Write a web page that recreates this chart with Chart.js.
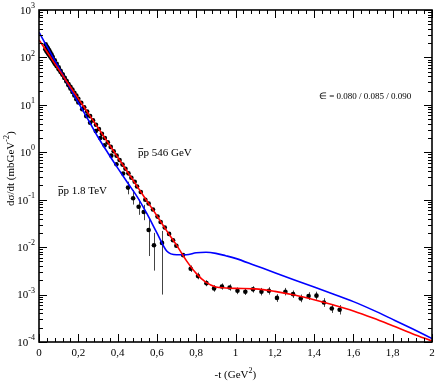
<!DOCTYPE html>
<html>
<head>
<meta charset="utf-8">
<title>dsigma/dt</title>
<script src="https://cdn.jsdelivr.net/npm/chart.js@4.4.1/dist/chart.umd.min.js"></script>
<style>
  body { margin: 0; background: #fff; }
  canvas { display: block; }
</style>
</head>
<body>
<canvas id="chart" width="436" height="382"></canvas>
<script>

///////////////////////////////
      /// DATA ///
//////////////////////////////

// model curves (same -t grid for both)
const curveT = [0, 0.05, 0.1, 0.15, 0.2, 0.25, 0.3, 0.35, 0.4, 0.45, 0.5, 0.55, 0.6, 0.65, 0.7,
  0.75, 0.8, 0.85, 0.9, 0.95, 1.0, 1.1, 1.2, 1.3, 1.4, 1.5, 1.6, 1.7, 1.8, 1.9, 2.0];
const fit546 = [234, 115, 56, 27.5, 13.5, 6.7, 3.3, 1.62, 0.79, 0.39, 0.19, 0.093, 0.046, 0.022, 0.011,
  0.0052, 0.0028, 0.0018, 0.00145, 0.00138, 0.00135, 0.00132, 0.00117, 0.00098, 0.00078, 0.0006,
  0.00045, 0.00032, 0.00022, 0.00015, 0.000105];
const fit1800 = [340, 145, 62, 26, 11.2, 4.9, 2.1, 0.98, 0.47, 0.23, 0.115, 0.05, 0.02, 0.0083, 0.0069,
  0.0069, 0.0076, 0.0078, 0.0074, 0.0066, 0.0058, 0.0041, 0.0029, 0.00204, 0.00145, 0.00102,
  0.00071, 0.00047, 0.0003, 0.00019, 0.000118];

// pbar-p 546 GeV data
const t546 = [0.032, 0.037, 0.042, 0.047, 0.052, 0.057, 0.062, 0.067, 0.072, 0.077, 0.082,
  0.09, 0.10, 0.11, 0.12, 0.13, 0.14, 0.15, 0.16, 0.17, 0.18, 0.19, 0.20,
  0.215, 0.23, 0.245, 0.26, 0.275, 0.29, 0.305, 0.32, 0.335, 0.35, 0.365, 0.38, 0.395, 0.41, 0.425, 0.44, 0.455, 0.47,
  0.487, 0.499, 0.518, 0.541, 0.558, 0.58, 0.603, 0.619, 0.64, 0.662, 0.682, 0.699, 0.733,
  0.772, 0.809, 0.852, 0.891, 0.931, 0.97, 1.01, 1.05, 1.089, 1.132, 1.17, 1.211, 1.254, 1.293, 1.332, 1.372, 1.412, 1.45, 1.49, 1.53];
const ds546 = [148, 138, 129, 120, 112, 105, 98, 91, 85, 78, 73,
  65, 56, 49, 43, 37, 32, 27.5, 24, 21, 18, 15.8, 13.5,
  11, 8.9, 7.2, 5.8, 4.7, 3.8, 3.1, 2.45, 2.0, 1.62, 1.3, 1.05, 0.85, 0.69, 0.55, 0.45, 0.36, 0.29,
  0.24, 0.19, 0.145, 0.10, 0.083, 0.062, 0.044, 0.034, 0.026, 0.019, 0.014, 0.0107, 0.0068,
  0.0035, 0.00245, 0.00174, 0.00135, 0.00148, 0.00141, 0.0012, 0.00115, 0.00129, 0.00115, 0.0012, 0.00085,
  0.00115, 0.00102, 0.00083, 0.00093, 0.00095, 0.00068, 0.00051, 0.00048];

// pbar-p 1.8 TeV data
const t1800 = [0.034, 0.040, 0.046, 0.052, 0.058, 0.064, 0.07,
  0.08, 0.09, 0.10, 0.11, 0.12, 0.13, 0.14, 0.15, 0.16, 0.17, 0.18, 0.19, 0.20,
  0.22, 0.24, 0.26, 0.289, 0.312, 0.334, 0.368, 0.394, 0.428,
  0.453, 0.479, 0.507, 0.533, 0.558, 0.585, 0.626];
const ds1800 = [190, 170, 155, 141, 126, 115, 102,
  87, 73, 62, 52, 44, 37, 31, 26, 22, 18.6, 15.8, 13.2, 11.2,
  8.1, 5.8, 4.2, 2.8, 2.0, 1.4, 0.85, 0.56, 0.355,
  0.18, 0.107, 0.071, 0.055, 0.023, 0.011, 0.0123];

// error bars [t, low, high]
const err546 = [[0.772, 0.003, 0.0041], [0.809, 0.0021, 0.0029], [0.852, 0.0015, 0.002],
  [0.891, 0.00115, 0.00158], [0.931, 0.00127, 0.00172], [0.97, 0.00121, 0.00164],
  [1.01, 0.00102, 0.00141], [1.05, 0.00098, 0.00135], [1.089, 0.0011, 0.0015],
  [1.132, 0.00096, 0.00138], [1.17, 0.001, 0.00143], [1.211, 0.0007, 0.00102],
  [1.254, 0.00096, 0.00138], [1.293, 0.00085, 0.00122], [1.332, 0.00069, 0.001],
  [1.372, 0.00077, 0.00112], [1.412, 0.00078, 0.00115], [1.45, 0.00055, 0.00084],
  [1.49, 0.00041, 0.00063], [1.53, 0.00038, 0.0006]];
const err1800 = [[0.453, 0.13, 0.24], [0.479, 0.079, 0.16], [0.507, 0.048, 0.1], [0.533, 0.037, 0.078],
  [0.558, 0.0065, 0.041], [0.585, 0.0032, 0.02], [0.626, 0.001, 0.022]];

// axes
const xTicks = [0, 0.2, 0.4, 0.6, 0.8, 1, 1.2, 1.4, 1.6, 1.8, 2];
const xTickLabels = ['0', '0,2', '0,4', '0,6', '0,8', '1', '1,2', '1,4', '1,6', '1,8', '2'];
const yExps = [-4, -3, -2, -1, 0, 1, 2, 3];

const toXY = (xs, ys) => xs.map((v, i) => ({x: v, y: ys[i]}));

const FONT = '"Liberation Serif", "Times New Roman", serif';

///////////////////////////////
      /// FRAME PLUGIN ///
//////////////////////////////

// text with a superscript part, returns the x where it ends
function drawSup(ctx, base, sup, x, y, align) {
  ctx.font = '11px ' + FONT;
  const wb = ctx.measureText(base).width;
  ctx.font = '8px ' + FONT;
  const ws = ctx.measureText(sup).width;
  let x0 = x;
  if (align === 'right') x0 = x - wb - ws;
  if (align === 'center') x0 = x - (wb + ws) / 2;
  ctx.textAlign = 'left';
  ctx.font = '11px ' + FONT;
  ctx.fillText(base, x0, y);
  ctx.font = '8px ' + FONT;
  ctx.fillText(sup, x0 + wb, y - 5);
  return x0 + wb + ws;
}

// "p" with an overbar, then rest of text
function drawPbar(ctx, rest, x, y) {
  ctx.font = '11px ' + FONT;
  ctx.textAlign = 'left';
  ctx.textBaseline = 'alphabetic';
  const wp = ctx.measureText('p').width;
  ctx.fillText('p' + rest, x, y);
  ctx.lineWidth = 0.8;
  ctx.beginPath();
  ctx.moveTo(x + 0.3, y - 7.5);
  ctx.lineTo(x + wp - 0.3, y - 7.5);
  ctx.stroke();
}

const framePlugin = {
  id: 'framePlugin',
  beforeDatasetsDraw(chart) {
    const {ctx, chartArea: a, scales: {x, y}} = chart;
    ctx.save();
    ctx.beginPath();
    ctx.rect(a.left, a.top, a.right - a.left, a.bottom - a.top);
    ctx.clip();
    ctx.lineWidth = 1;
    ctx.strokeStyle = '#444';
    err546.concat(err1800).forEach(([t, lo, hi]) => {
      const px = Math.round(x.getPixelForValue(t)) + 0.5;
      ctx.beginPath();
      ctx.moveTo(px, y.getPixelForValue(lo));
      ctx.lineTo(px, y.getPixelForValue(hi));
      ctx.stroke();
    });
    ctx.restore();
  },
  afterDraw(chart) {
    const {ctx, chartArea: a, scales: {x, y}} = chart;
    ctx.save();
    ctx.strokeStyle = '#000';
    ctx.fillStyle = '#000';

    // ticks, inward on all four sides
    ctx.lineWidth = 1;
    ctx.beginPath();
    for (let k = 0; k <= 50; k++) {
      const px = Math.round(x.getPixelForValue(k * 0.04)) + 0.5;
      const len = k % 5 === 0 ? 8 : 4;
      ctx.moveTo(px, a.bottom); ctx.lineTo(px, a.bottom - len);
      ctx.moveTo(px, a.top); ctx.lineTo(px, a.top + len);
    }
    yExps.forEach(e => {
      for (let m = 1; m <= 9; m++) {
        if (e === 3 && m > 1) break;
        const py = Math.round(y.getPixelForValue(m * Math.pow(10, e))) + 0.5;
        const len = m === 1 ? 8 : 4;
        ctx.moveTo(a.left, py); ctx.lineTo(a.left + len, py);
        ctx.moveTo(a.right, py); ctx.lineTo(a.right - len, py);
      }
    });
    ctx.stroke();

    // frame
    ctx.lineWidth = 1.6;
    ctx.strokeRect(a.left, a.top, a.right - a.left, a.bottom - a.top);

    // tick labels
    ctx.textBaseline = 'middle';
    ctx.font = '11px ' + FONT;
    ctx.textAlign = 'center';
    xTicks.forEach((v, i) => {
      ctx.fillText(xTickLabels[i], x.getPixelForValue(v), a.bottom + 11);
    });
    yExps.forEach(e => {
      drawSup(ctx, '10', String(e), a.left - 4, y.getPixelForValue(Math.pow(10, e)) + 1, 'right');
    });

    // x title
    ctx.textBaseline = 'alphabetic';
    let end = drawSup(ctx, '-t (GeV', '2', x.getPixelForValue(0.99), 378, 'center');
    ctx.font = '11px ' + FONT;
    ctx.fillText(')', end, 378);
    ctx.restore();

    // y title, rotated
    ctx.save();
    ctx.translate(14, 168);
    ctx.rotate(-Math.PI / 2);
    ctx.fillStyle = '#000';
    ctx.textBaseline = 'alphabetic';
    ctx.font = '11px ' + FONT;
    const full = ctx.measureText('d\u03c3/dt (mbGeV)').width + 8;
    end = drawSup(ctx, 'd\u03c3/dt (mbGeV', '-2', -full / 2, 0, 'left');
    ctx.font = '11px ' + FONT;
    ctx.textAlign = 'left';
    ctx.fillText(')', end, 0);
    ctx.restore();

    // annotations
    ctx.save();
    ctx.fillStyle = '#000';
    ctx.strokeStyle = '#000';
    drawPbar(ctx, 'p 546 GeV', 138, 156);
    drawPbar(ctx, 'p 1.8 TeV', 58, 194);
    ctx.font = '9px ' + FONT;
    ctx.textAlign = 'left';
    ctx.fillText('\u2208 = 0.080 / 0.085 / 0.090', 319, 99);
    ctx.restore();
  }
};

///////////////////////////////
        /// CHART ///
//////////////////////////////

const ctx = document.getElementById('chart').getContext('2d');
const myChart = new Chart(ctx, {
  type: 'scatter',
  data: {
    datasets: [
      {
        label: 'fit 546 GeV',
        data: toXY(curveT, fit546),
        showLine: true,
        borderColor: '#ff0000',
        borderWidth: 1.6,
        pointRadius: 0,
        cubicInterpolationMode: 'monotone'
      },
      {
        label: 'fit 1.8 TeV',
        data: toXY(curveT, fit1800),
        showLine: true,
        borderColor: '#0000ff',
        borderWidth: 1.6,
        pointRadius: 0,
        cubicInterpolationMode: 'monotone'
      },
      {
        label: '546 GeV',
        data: toXY(t546, ds546),
        pointRadius: 2.3,
        pointBorderWidth: 0,
        backgroundColor: '#000',
        borderColor: '#000'
      },
      {
        label: '1.8 TeV',
        data: toXY(t1800, ds1800),
        pointRadius: 2.3,
        pointBorderWidth: 0,
        backgroundColor: '#000',
        borderColor: '#000'
      }
    ]
  },
  options: {
    responsive: false,
    animation: false,
    layout: { padding: { left: 39, right: 3, top: 10, bottom: 40 } },
    scales: {
      x: { type: 'linear', min: 0, max: 2, display: false },
      y: { type: 'logarithmic', min: 1e-4, max: 1e3, display: false }
    },
    plugins: {
      legend: { display: false },
      tooltip: { enabled: false }
    }
  },
  plugins: [framePlugin]
});
</script>
</body>
</html>
